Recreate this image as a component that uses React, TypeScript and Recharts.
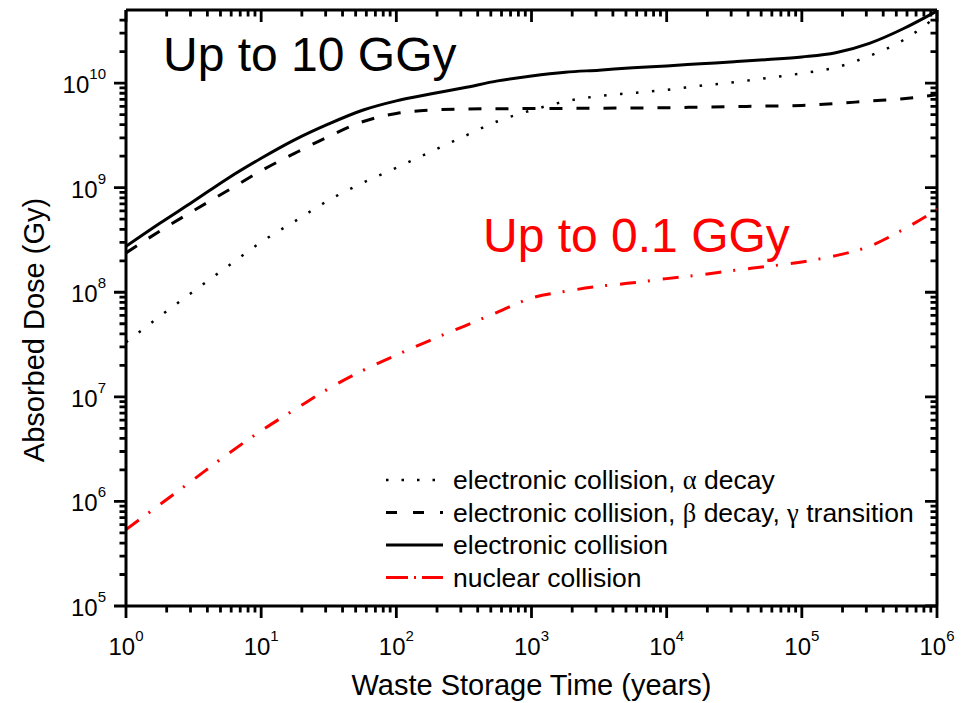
import React from 'react';
import { LineChart, Line, XAxis, YAxis, ReferenceLine } from 'recharts';

// Waste storage time (years), sampled every quarter decade
const years = [1, 1.78, 3.16, 5.62, 10, 17.8, 31.6, 56.2, 100, 178, 316, 562, 1000, 1780, 3160, 5620, 10000, 17800, 31600, 56200, 100000, 178000, 316000, 562000, 1000000];

// Absorbed dose (Gy)
const elecAlpha = [3.33e7, 5.89e7, 1.02e8, 1.76e8, 3.02e8, 4.79e8, 7.59e8, 1.11e9, 1.55e9, 2.19e9, 3.09e9, 4.32e9, 5.5e9, 6.68e9, 7.52e9, 8.04e9, 8.61e9, 9.44e9, 1.02e10, 1.12e10, 1.24e10, 1.41e10, 1.82e10, 2.57e10, 4.37e10];
const elecBetaGamma = [2.38e8, 3.85e8, 6.03e8, 9.33e8, 1.45e9, 2.14e9, 3.09e9, 4.27e9, 5.13e9, 5.52e9, 5.65e9, 5.69e9, 5.71e9, 5.73e9, 5.75e9, 5.78e9, 5.82e9, 5.89e9, 5.96e9, 6.03e9, 6.12e9, 6.38e9, 6.73e9, 7.08e9, 7.76e9];
const elecTotal = [2.75e8, 4.57e8, 7.41e8, 1.22e9, 1.91e9, 2.88e9, 4.07e9, 5.5e9, 6.76e9, 7.85e9, 9.02e9, 1.05e10, 1.17e10, 1.27e10, 1.33e10, 1.4e10, 1.46e10, 1.53e10, 1.6e10, 1.68e10, 1.78e10, 1.95e10, 2.4e10, 3.31e10, 4.9e10];
const nuclear = [5.38e5, 9.33e5, 1.62e6, 2.82e6, 4.74e6, 7.59e6, 1.2e7, 1.78e7, 2.51e7, 3.47e7, 4.73e7, 6.46e7, 8.81e7, 1.02e8, 1.14e8, 1.23e8, 1.35e8, 1.47e8, 1.62e8, 1.77e8, 1.95e8, 2.24e8, 2.75e8, 3.98e8, 6.17e8];

const seriesNames = [
  'electronic collision, α decay',
  'electronic collision, β decay, γ transition',
  'electronic collision',
  'nuclear collision',
];
const seriesKeys = ['alpha', 'betaGamma', 'total', 'nuclear'];

const xDecades = [1, 10, 100, 1000, 10000, 100000, 1000000];
const yDecades = [1e5, 1e6, 1e7, 1e8, 1e9, 1e10];
const minorMultipliers = [2, 3, 4, 5, 6, 7, 8, 9];

const annotationHigh = 'Up to 10 GGy';
const annotationLow = 'Up to 0.1 GGy';
const xTitle = 'Waste Storage Time (years)';
const yTitle = 'Absorbed Dose (Gy)';

const X_DOMAIN: [number, number] = [1, 1e6];
const Y_DOMAIN: [number, number] = [1e5, 5e10];

const xMinorTicks = xDecades.slice(0, -1).flatMap((d) => minorMultipliers.map((m) => m * d));
const yMinorTicks = yDecades.flatMap((d) => minorMultipliers.map((m) => m * d)).filter((v) => v <= 4.5e10);

const rows = years.map((t, i) => ({
  t,
  alpha: elecAlpha[i],
  betaGamma: elecBetaGamma[i],
  total: elecTotal[i],
  nuclear: nuclear[i],
}));

// layout
const CHART_W = 968;
const CHART_H = 703;
const MARGIN = { top: 10, right: 31, bottom: 0, left: 0 };
const Y_AXIS_W = 126;
const X_AXIS_H = 97;
const PLOT_W = CHART_W - Y_AXIS_W - MARGIN.right;
const PLOT_H = CHART_H - MARGIN.top - X_AXIS_H;
const PX_PER_DEC_X = PLOT_W / Math.log10(X_DOMAIN[1] / X_DOMAIN[0]);
const PX_PER_DEC_Y = PLOT_H / Math.log10(Y_DOMAIN[1] / Y_DOMAIN[0]);

const MAJOR_LEN = 12;
const MINOR_LEN = 6.5;
const TICK_W = 2.8;

const FONT = '"Liberation Sans", Arial, Helvetica, sans-serif';
const SERIF = '"Liberation Serif", "Times New Roman", serif';

const styles: Record<string, { color: string; dash?: string; width: number; legendDash?: string }> = {
  alpha: { color: '#000000', dash: '2.5 13.5', width: 2.5, legendDash: '2.5 13' },
  betaGamma: { color: '#000000', dash: '13 14', width: 3, legendDash: '11 16' },
  total: { color: '#000000', width: 3 },
  nuclear: { color: '#ff0000', dash: '16 12 2 13', width: 3, legendDash: '22 6 2 6' },
};

const expOf = (v: number) => Math.round(Math.log10(v));

const BottomLabel = (props: any) => {
  const { x, y, payload } = props;
  return (
    <text x={x} y={y + 49} textAnchor="middle" fontSize={24} fontFamily={FONT} fill="#000">
      10<tspan dy={-14} fontSize={15}>{expOf(payload.value)}</tspan>
    </text>
  );
};

const LeftLabel = (props: any) => {
  const { x, y, payload } = props;
  return (
    <text x={x - 20} y={y + 10} textAnchor="end" fontSize={24} fontFamily={FONT} fill="#000">
      10<tspan dy={-14} fontSize={15}>{expOf(payload.value)}</tspan>
    </text>
  );
};

const withGreek = (s: string) =>
  s.split(/([αβγ])/).map((part, i) =>
    /[αβγ]/.test(part) ? (
      <tspan key={i} fontFamily={SERIF}>{part}</tspan>
    ) : (
      <tspan key={i}>{part}</tspan>
    )
  );

// tick marks: a dashed reference segment running from just outside the bottom/left
// axis to the opposite frame edge, visible only at its two ends
const xTickLines = [...xDecades, ...xMinorTicks].map((v, i) => {
  const len = i < xDecades.length ? MAJOR_LEN : MINOR_LEN;
  const below = Y_DOMAIN[0] / Math.pow(10, len / PX_PER_DEC_Y);
  return { v, len, from: below };
});
const yTickLines = [...yDecades, ...yMinorTicks].map((v, i) => {
  const len = i < yDecades.length ? MAJOR_LEN : MINOR_LEN;
  const left = X_DOMAIN[0] / Math.pow(10, len / PX_PER_DEC_X);
  return { v, len, from: left };
});

// legend box (drawn in the chart's svg)
const LEG_X = 386;
const LEG_Y0 = 480;
const LEG_ROW = 32.5;
const LEG_SAMPLE = 57;

const frame = { stroke: '#000', strokeWidth: 3 };

export default function App() {
  return (
    <div style={{ position: 'absolute', left: 0, top: 0, width: CHART_W, height: CHART_H, background: '#fff' }}>
      <LineChart width={CHART_W} height={CHART_H} data={rows} margin={MARGIN}>
        <XAxis
          dataKey="t"
          type="number"
          scale="log"
          domain={X_DOMAIN}
          allowDataOverflow
          ticks={xDecades}
          interval={0}
          tickSize={0}
          tickMargin={0}
          tickLine={false}
          axisLine={frame}
          tick={(p: any) => <BottomLabel {...p} />}
          height={X_AXIS_H}
          label={{ value: xTitle, position: 'insideBottom', offset: 8, fontSize: 29, fontFamily: FONT, fill: '#000' }}
        />
        <YAxis
          type="number"
          scale="log"
          domain={Y_DOMAIN}
          allowDataOverflow
          ticks={yDecades}
          interval={0}
          tickSize={0}
          tickMargin={0}
          tickLine={false}
          axisLine={frame}
          tick={(p: any) => <LeftLabel {...p} />}
          width={Y_AXIS_W}
        />
        {/* top and right frame edges at the domain limits */}
        <ReferenceLine y={Y_DOMAIN[1]} ifOverflow="visible" stroke="#000" strokeWidth={3} />
        <ReferenceLine x={X_DOMAIN[1]} ifOverflow="visible" stroke="#000" strokeWidth={3} />
        {xTickLines.map((t, i) => (
          <ReferenceLine
            key={`xt${i}`}
            segment={[{ x: t.v, y: t.from }, { x: t.v, y: Y_DOMAIN[1] }]}
            ifOverflow="visible"
            stroke="#000"
            strokeWidth={TICK_W}
            strokeDasharray={`${t.len} ${PLOT_H - t.len} ${t.len} ${PLOT_H * 4}`}
          />
        ))}
        {yTickLines.map((t, i) => (
          <ReferenceLine
            key={`yt${i}`}
            segment={[{ x: t.from, y: t.v }, { x: X_DOMAIN[1], y: t.v }]}
            ifOverflow="visible"
            stroke="#000"
            strokeWidth={TICK_W}
            strokeDasharray={`${t.len} ${PLOT_W - t.len} ${t.len} ${PLOT_W * 4}`}
          />
        ))}
        {seriesKeys.map((k, i) => (
          <Line
            key={k}
            dataKey={k}
            name={seriesNames[i]}
            type="monotone"
            stroke={styles[k].color}
            strokeWidth={styles[k].width}
            strokeDasharray={styles[k].dash}
            dot={false}
            activeDot={false}
            isAnimationActive={false}
          />
        ))}
        <g>
          {seriesKeys.map((k, i) => {
            const cy = LEG_Y0 + i * LEG_ROW;
            const st = styles[k];
            return (
              <g key={`leg-${k}`}>
                <line x1={LEG_X} x2={LEG_X + LEG_SAMPLE} y1={cy} y2={cy} stroke={st.color} strokeWidth={st.width} strokeDasharray={st.legendDash} />
                <text x={LEG_X + LEG_SAMPLE + 10} y={cy + 9} fontSize={26.5} fontFamily={FONT} fill="#000">
                  {withGreek(seriesNames[i])}
                </text>
              </g>
            );
          })}
        </g>
        <text x={163} y={71} fontSize={48} fontFamily={FONT} fill="#000">{annotationHigh}</text>
        <text x={483} y={252} fontSize={48} fontFamily={FONT} fill="#ff0000">{annotationLow}</text>
        <text x={43.5} y={330} transform="rotate(-90 43.5 330)" textAnchor="middle" fontSize={29} fontFamily={FONT} fill="#000">
          {yTitle}
        </text>
      </LineChart>
    </div>
  );
}
